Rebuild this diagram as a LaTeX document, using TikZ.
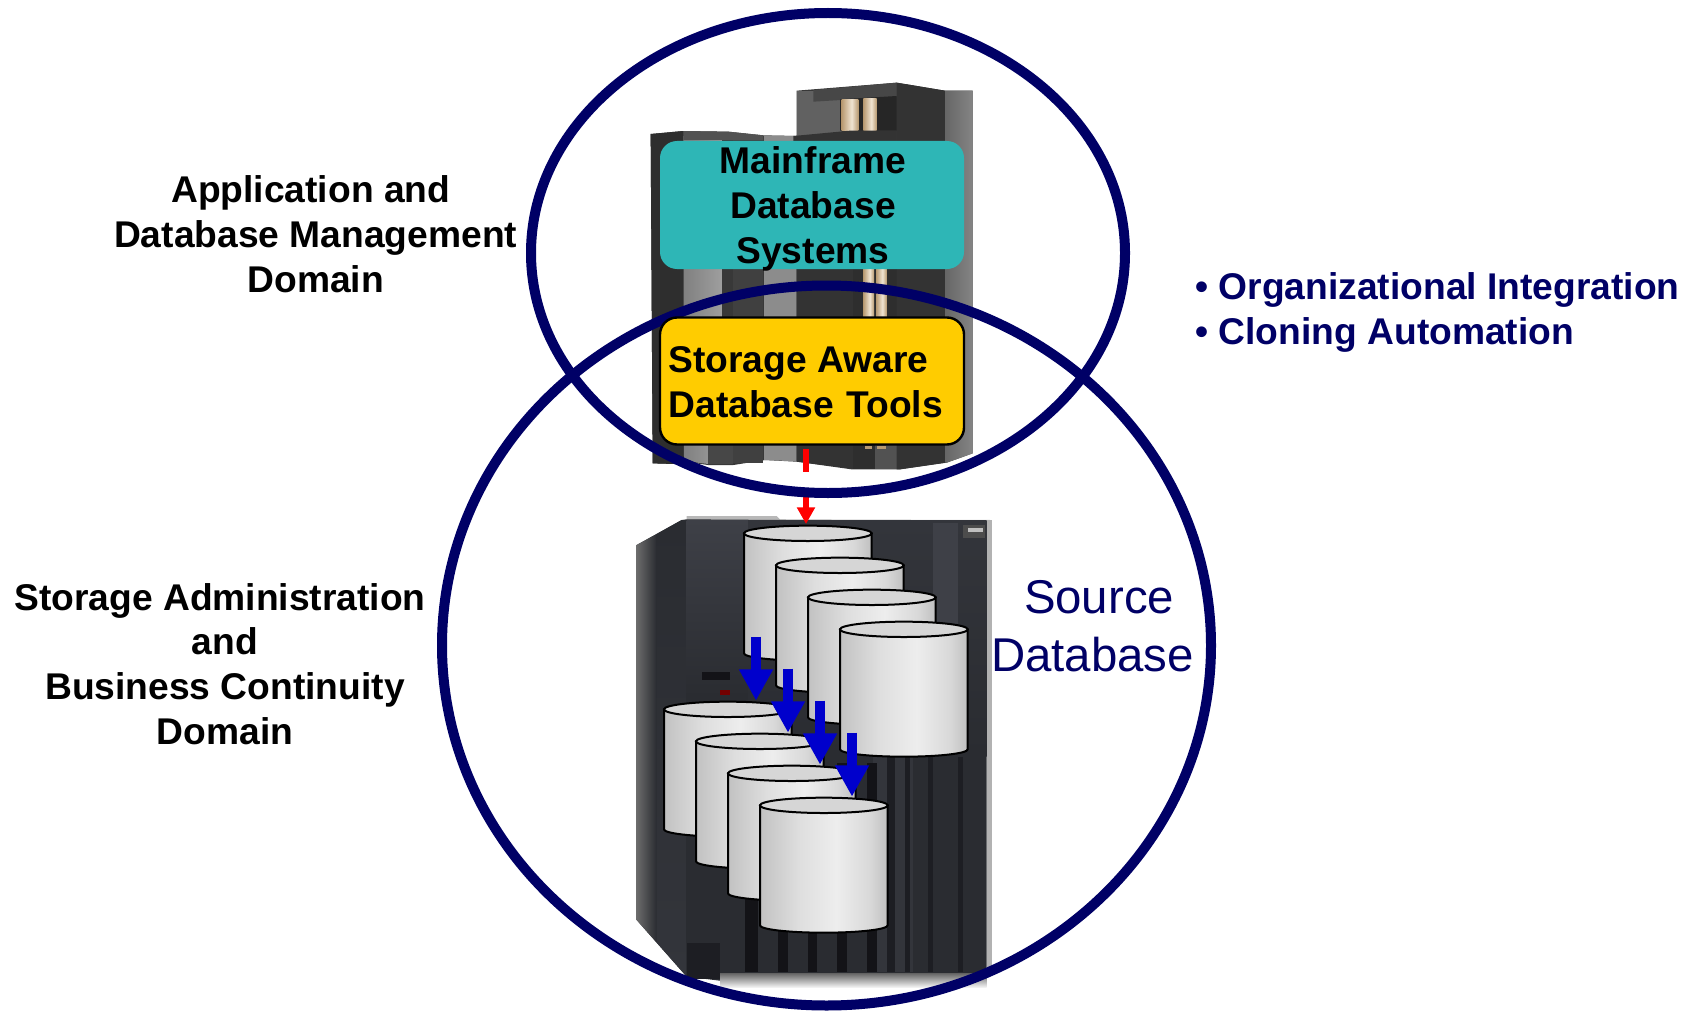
\documentclass[tikz,border=0pt]{standalone}
\usepackage{fontspec}
\setmainfont{Liberation Sans}
\usetikzlibrary{arrows.meta}
\definecolor{navy}{HTML}{000066}
\definecolor{tealbox}{HTML}{2EB6B6}
\definecolor{yellowbox}{HTML}{FFCC00}
\definecolor{arrowblue}{HTML}{0000CC}
\definecolor{tanA}{HTML}{B89A72}
\definecolor{tanB}{HTML}{F0E4D2}
\definecolor{frameBase}{HTML}{2A2C31}
\definecolor{framePanel}{HTML}{3E4047}
\definecolor{frameMid}{HTML}{33353B}
\definecolor{frameDark}{HTML}{131317}
\definecolor{frameDim}{HTML}{1D1E23}
\pgfdeclarehorizontalshading{cylshade}{100bp}{color(0bp)=(black!24);color(25bp)=(black!24);color(40bp)=(black!13);color(55bp)=(black!7);color(68bp)=(black!15);color(75bp)=(black!25);color(100bp)=(black!25)}
\pgfdeclarehorizontalshading{tanshade}{100bp}{color(0bp)=(tanA);color(25bp)=(tanA);color(55bp)=(tanB);color(75bp)=(tanA);color(100bp)=(tanA)}
\tikzset{
  domainring/.style={draw=navy,line width=5pt},
  lbl/.style={font=\bfseries\fontsize{18.6}{22.4}\selectfont,align=center,inner sep=0pt,text=black},
  cyl/.style={draw=black,line width=1pt,shading=cylshade},
  cyltop/.style={draw=black,line width=1pt,fill=black!16},
  bluearrow/.style={draw=arrowblue,line width=5.33pt,-{Triangle[length=15.67pt,width=16pt,fill=arrowblue]}},
  redarrow/.style={draw=red,line width=3pt,dash pattern=on 11.67pt off 8.33pt,-{Triangle[length=8.33pt,width=8.67pt,fill=red]}}
}
\newcommand{\cylinder}[2]{%
  \draw[cyl] (#1,#2) -- (#1,#2+360) arc[start angle=180,end angle=0,x radius=191.5,y radius=22] -- (#1+383,#2) -- cycle;
  \draw[cyltop] (#1+191.5,#2) ellipse[x radius=191.5,y radius=23];
}
\begin{document}
\begin{tikzpicture}[x=0.5pt,y=-0.5pt]
\useasboundingbox (0,0) rectangle (1692,1011);
% mainframe picture
\begin{scope}[shift={(620,60)},x=0.166667pt,y=-0.166667pt]
  % silhouette
  \fill[black!78] (92,222)--(190,213)--(325,215)--(430,226)--(530,228)--(530,92)--(580,88)--(830,68)--(975,92)--(1058,92)--(1058,1180)--(980,1208)--(840,1228)--(695,1228)--(530,1205)--(435,1200)--(340,1215)--(265,1215)--(192,1205)--(165,1212)--(98,1210)--cycle;
  % left column and bars
  \fill[black!82] (92,222)--(190,213)--(192,1205)--(165,1212)--(98,1210)--cycle;
  \shade[left color=black!50,right color=black!38] (190,228)--(305,228)--(305,800)--(265,1000)--(265,1212)--(192,1203)--cycle;
  \fill[black!68] (190,213)--(325,215)--(430,226)--(430,240)--(190,240)--cycle;
  \fill[black!75] (340,240) rectangle (430,1210);
  \fill[black!72] (265,1000) rectangle (340,1213);
  \fill[black!45] (432,226)--(530,228)--(530,1204)--(432,1200)--cycle;
  \fill[black!80] (530,245)--(700,245)--(700,1226)--(530,1205)--cycle;
  \fill[black!82] (700,245) rectangle (835,1228);
  \fill[black!68] (765,1000) rectangle (840,1226);
  \shade[shading=tanshade] (730,620) rectangle (762,775);
  \shade[shading=tanshade] (768,620) rectangle (800,775);
  \fill[tanA] (735,1157) rectangle (757,1167);
  \fill[tanA] (772,1157) rectangle (798,1167);
  \fill[black!80] (830,68)--(975,92)--(975,1208)--(840,1228)--(830,1228)--cycle;
  \shade[left color=black!60,right color=black!48] (975,92)--(1058,92)--(1058,1180)--(980,1208)--(975,1208)--cycle;
  % top of the tall tower
  \fill[black!62] (530,92) rectangle (665,228);
  \fill[black!72] (580,90)--(830,68)--(830,110)--(580,125)--cycle;
  \fill[black!85] (660,118)--(830,108)--(830,212)--(660,212)--cycle;
  \shade[shading=tanshade] (665,118) rectangle (715,212);
  \shade[shading=tanshade] (730,115) rectangle (770,212);
  \fill[black!80] (520,228)--(690,212)--(830,212)--(830,245)--(520,245)--cycle;
\end{scope}
% storage frame picture
\begin{scope}[shift={(620,510)},x=0.166667pt,y=-0.166667pt]
  \fill[black!28] (200,18)--(470,18)--(480,28)--(1115,30)--(1115,1370)--(1100,1370)--(1100,34)--(200,30)--cycle;
  \fill[black!30] (1100,30) rectangle (1115,1370);
  \fill[frameBase] (50,105)--(185,30)--(200,28)--(1100,34)--(1100,1390)--(300,1390)--(300,1412)--(200,1400)--(50,1230)--cycle;
  \shade[left color=black!58,right color=frameBase] (50,105)--(110,72)--(110,1298)--(50,1230)--cycle;
  \shade[top color=frameBase,bottom color=frameMid] (110,72)--(185,30)--(200,30)--(200,1400)--(110,1298)--cycle;
  \shade[top color=framePanel,bottom color=frameBase] (200,30) rectangle (385,560);
  \shade[top color=frameMid,bottom color=frameBase] (385,30) rectangle (1100,740);
  \fill[framePanel] (940,40) rectangle (1015,700);
  \fill[frameMid] (760,740) rectangle (880,1385);
  \foreach \a/\b in {375/415,475/505,565/590,650/680,740/770}
    \fill[frameDark] (\a,760) rectangle (\b,1385);
  \foreach \a/\b in {800/825,855/870,925/940,1015/1030}
    \fill[frameDim] (\a,740) rectangle (\b,1385);
  \fill[frameDark] (245,485) rectangle (330,510);
  \fill[red!45!black] (300,540) rectangle (330,555);
  \fill[black!70] (1030,45) rectangle (1095,85);
  \fill[black!25] (1045,55) rectangle (1090,65);
  \fill[frameDim] (200,1300) rectangle (300,1408);
  \shade[top color=black!60,bottom color=black!4] (300,1390) rectangle (1100,1432);
\end{scope}
% cylinders and arrows
\begin{scope}[shift={(620,510)},x=0.166667pt,y=-0.166667pt]
  \cylinder{372}{70}
  \cylinder{468}{166}
  \cylinder{564}{262}
  \cylinder{660}{358}
  \cylinder{132}{598}
  \cylinder{228}{694}
  \cylinder{324}{790}
  \cylinder{420}{886}
  \coordinate (a1s) at (408,380); \coordinate (a1e) at (408,572);
  \coordinate (a2s) at (504,476); \coordinate (a2e) at (504,668);
  \coordinate (a3s) at (600,572); \coordinate (a3e) at (600,764);
  \coordinate (a4s) at (696,668); \coordinate (a4e) at (696,860);
\end{scope}
\draw[bluearrow] (a1s) -- (a1e);
\draw[bluearrow] (a2s) -- (a2e);
\draw[bluearrow] (a3s) -- (a3e);
\draw[bluearrow] (a4s) -- (a4e);
% red arrow
\coordinate (rstart) at (806,449);
\coordinate (rend) at (806,524);
\draw[redarrow] (rstart) -- (rend);
% domains
\draw[domainring] (828,253) ellipse[x radius=297,y radius=240];
\draw[domainring] (826.5,645.5) ellipse[x radius=384.5,y radius=360];
% boxes
\node[fill=tealbox,rounded corners=8.5pt,minimum width=152pt,inner sep=0pt,text height=61.15pt,text depth=2.85pt,lbl] (mdb) at (812,205) {\hspace*{1pt}Mainframe\\\hspace*{1pt}Database\\\hspace*{1pt}Systems};
\node[fill=yellowbox,draw=black,line width=1.2pt,rounded corners=8.5pt,minimum width=152pt,minimum height=63.5pt,inner xsep=3.5pt,inner ysep=0pt,lbl,text width=143.5pt,align=left] (tools) at (812,381) {\rule{0pt}{14.2pt}Storage\kern-1pt{} Aware\\Database Tools};
% labels
\node[lbl] (appdom) at (315.7,234) {Application and\kern5pt\\Database Management\\Domain};
\node[lbl] (stordom) at (225,664) {Storage Administration\kern5pt\\and\\Business Continuity\\Domain};
\node[lbl,text=navy,align=left,anchor=west] (bullets) at (1195,312.5) {• Organizational Integration\\• Cloning Automation};
\node[font=\fontsize{23.7}{29.2}\selectfont,text=navy,align=center,inner sep=0pt] (src) at (1092.5,626) {\hspace*{6.6pt}Source\\Database};
\end{tikzpicture}
\end{document}
